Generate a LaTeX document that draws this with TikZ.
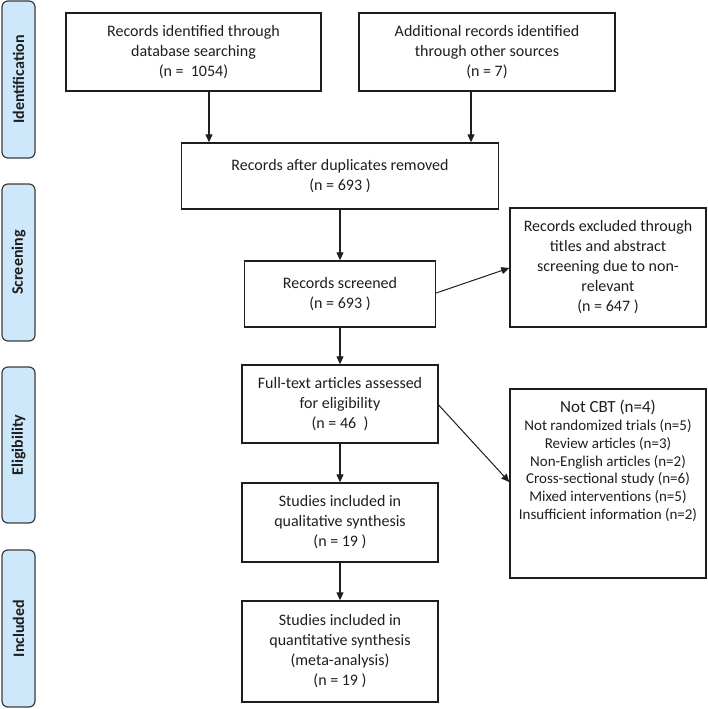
\documentclass[tikz,border=0pt]{standalone}
\usepackage{fontspec}
\setmainfont{Carlito}
\usetikzlibrary{arrows.meta}
\definecolor{sidefill}{RGB}{205,232,250}
\definecolor{sidedraw}{RGB}{60,60,60}
\definecolor{ink}{RGB}{30,30,30}
\tikzset{
  box/.style={draw=ink, line width=1.4pt, rectangle, inner sep=0pt, align=center, text=ink,
    font=\fontsize{16}{20}\selectfont},
  side/.style={draw=sidedraw, fill=sidefill, line width=1.2pt, rounded corners=6pt, rectangle,
    minimum width=33, inner sep=0pt},
  sidelabel/.style={rotate=90, font=\fontsize{16}{18}\selectfont\bfseries, text=ink},
  arr/.style={draw=ink, line width=1.2pt, -{Triangle[length=8pt,width=7pt]}},
  listtext/.style={align=center, text=ink, inner sep=0pt, anchor=north,
    font=\fontsize{15}{17.7}\selectfont}
}
\begin{document}
\begin{tikzpicture}[x=1pt,y=-1pt]
\useasboundingbox (0,0) rectangle (708,709);
% side bars
\node[side, minimum height=157] (s1) at (18.5,79.5) {};
\node[sidelabel] (l1) at (s1.center) {Identification};
\node[side, minimum height=157] (s2) at (18.5,262.5) {};
\node[sidelabel] (l2) at (s2.center) {Screening};
\node[side, minimum height=156] (s3) at (18.5,445) {};
\node[sidelabel] (l3) at (s3.center) {Eligibility};
\node[side, minimum height=157] (s4) at (18.5,628.5) {};
\node[sidelabel] (l4) at (s4.center) {Included};
% main boxes
\node[box, minimum width=255, minimum height=78] (b1) at (193.5,52) {Records identified through\\database searching\\(n =\ \ 1054)};
\node[box, minimum width=256, minimum height=78] (b2) at (487,52) {Additional records identified\\through other sources\\(n = 7)};
\node[box, minimum width=317, minimum height=66] (b3) at (340,176) {Records after duplicates removed\\(n = 693 )};
\node[box, minimum width=191, minimum height=66] (b4) at (340,294) {Records screened\\(n = 693 )};
\node[box, minimum width=196, minimum height=78] (b5) at (340,404) {Full-text articles assessed\\for eligibility\\(n = 46\ \ )};
\node[box, minimum width=196, minimum height=79] (b6) at (340,522.5) {Studies included in\\qualitative synthesis\\(n = 19 )};
\node[box, minimum width=196, minimum height=101] (b7) at (340,651.5) {Studies included in\\quantitative synthesis\\(meta-analysis)\\(n = 19 )};
% exclusion boxes
\node[box, minimum width=196, minimum height=119] (e1) at (608,267.5) {Records excluded through\\titles and abstract\\screening due to non-\\relevant\\(n = 647 )};
\node[box, minimum width=196, minimum height=189] (e2) at (608,483.5) {};
\node[listtext] (e2t) at ([yshift=-12pt]e2.north) {{\fontsize{17}{17.7}\selectfont Not CBT (n=4)}\\
Not randomized trials (n=5)\\
Review articles (n=3)\\
Non-English articles (n=2)\\
Cross-sectional study (n=6)\\
Mixed interventions (n=5)\\
Insufficient information (n=2)};
% arrows
\draw[arr] (b1.south -| 209,0) -- (b3.north -| 209,0);
\draw[arr] (b2.south -| 471,0) -- (b3.north -| 471,0);
\draw[arr] (b3.south) -- (b4.north);
\draw[arr] (b4.south) -- (b5.north);
\draw[arr] (b5.south) -- (b6.north);
\draw[arr] (b6.south) -- (b7.north);
\draw[arr, line width=1pt] (b4.east |- 0,293) -- (e1.west |- 0,268);
\draw[arr, line width=1pt] (b5.east |- 0,405) -- (e2.west |- 0,482);
\end{tikzpicture}
\end{document}
